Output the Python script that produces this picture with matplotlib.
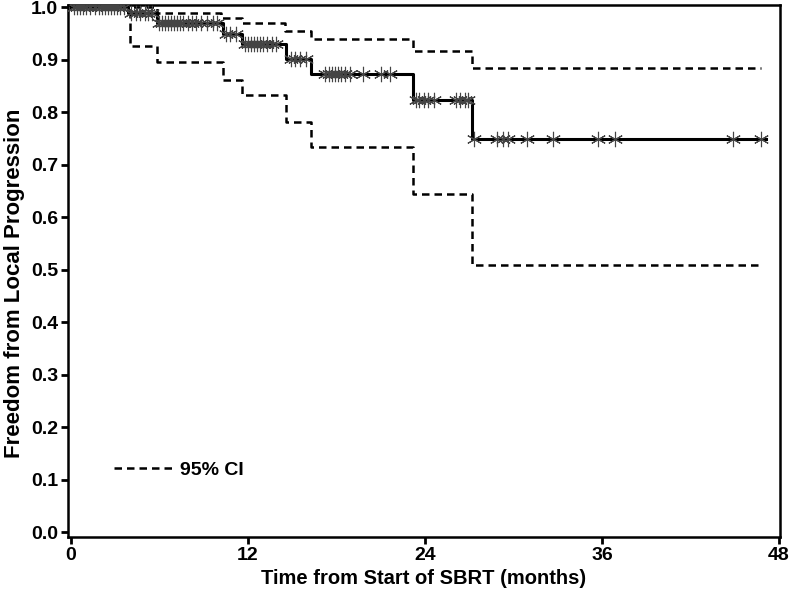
import numpy as np
import matplotlib
matplotlib.use("Agg")
import matplotlib.pyplot as plt

plt.rcParams['font.family'] = ['Liberation Sans Narrow', 'Liberation Sans', 'DejaVu Sans']
plt.rcParams['font.weight'] = 'bold'

# Kaplan-Meier estimate (step times in months, survival)
km_time = [0, 3.9, 5.8, 10.3, 11.6, 14.6, 16.3, 23.2, 27.2, 47.1]
km_surv = [1.0, 0.989, 0.970, 0.948, 0.930, 0.902, 0.873, 0.823, 0.749, 0.749]

# 95% confidence band
upper_time = [0, 5.8, 10.2, 11.6, 14.5, 16.3, 23.2, 27.2, 46.8]
upper_surv = [1.0, 0.989, 0.979, 0.969, 0.955, 0.940, 0.917, 0.884, 0.884]
lower_time = [0, 4.0, 5.8, 10.3, 11.6, 14.6, 16.3, 23.2, 27.2, 46.8]
lower_surv = [1.0, 0.926, 0.896, 0.862, 0.832, 0.781, 0.733, 0.644, 0.509, 0.509]

# censored observations (months)
censor_time = [0.2, 0.4, 0.6, 0.8, 1.0, 1.3, 1.6, 1.9, 2.1, 2.3, 2.5, 2.7, 2.9, 3.1, 3.3, 3.6,
               4.1, 4.4, 4.7, 5.0, 5.2, 5.5,
               6.0, 6.2, 6.4, 6.6, 6.8, 7.0, 7.2, 7.4, 7.6, 7.9, 8.2, 8.5, 8.8, 9.2, 9.6, 9.9,
               10.5, 10.8, 11.2,
               11.8, 12.0, 12.2, 12.4, 12.6, 12.8, 13.0, 13.3, 13.6, 13.9,
               14.9, 15.2, 15.5, 15.9,
               17.2, 17.5, 17.7, 17.9, 18.1, 18.3, 18.6, 18.9, 19.8, 21.0, 21.6,
               23.4, 23.6, 23.9, 24.2, 24.6, 26.1, 26.4, 26.7, 26.9,
               27.3, 28.9, 29.3, 29.6, 30.9, 32.7, 35.7, 36.9, 44.9, 46.8]

x_ticks = [0, 12, 24, 36, 48]
y_ticks = [0.0, 0.1, 0.2, 0.3, 0.4, 0.5, 0.6, 0.7, 0.8, 0.9, 1.0]

fig = plt.figure(figsize=(7.9, 5.96), dpi=100)
ax = fig.add_axes([0.0861, 0.0990, 0.9013, 0.8926])

# survival value at each censor time
idx = np.searchsorted(km_time, censor_time, side='right') - 1
censor_surv = np.array(km_surv)[idx]

ax.step(lower_time, lower_surv, where='post', color='black', lw=1.8, ls=(0, (3, 2)))
ax.step(upper_time, upper_surv, where='post', color='black', lw=1.8, ls=(0, (3, 2)), label='95% CI')
ax.step(km_time, km_surv, where='post', color='black', lw=2.2)
ax.plot(censor_time, censor_surv, ls='none', marker=(6, 2, 0), ms=11,
        mec='#444444', mew=0.8, zorder=3)

ax.set_xlim(-0.2, 48.07)
ax.set_ylim(-0.0095, 1.004)
ax.set_xticks(x_ticks)
ax.set_yticks(y_ticks)
ax.set_yticklabels([f'{v:.1f}' for v in y_ticks])
ax.tick_params(direction='out', length=5, width=2, labelsize=14, pad=2)
for s in ax.spines.values():
    s.set_linewidth(1.8)

ax.set_xlabel('Time from Start of SBRT (months)', fontsize=14.5, fontweight='bold', labelpad=4)
ax.set_ylabel('Freedom from Local Progression', fontsize=16, fontweight='bold')
ax.yaxis.set_label_coords(-0.061, 0.477)

ax.legend(loc='center left', bbox_to_anchor=(0.064, 0.126), frameon=False,
          fontsize=14, handlelength=3.0, handletextpad=0.4, borderpad=0, borderaxespad=0)

fig.savefig('out.png', dpi=100)
